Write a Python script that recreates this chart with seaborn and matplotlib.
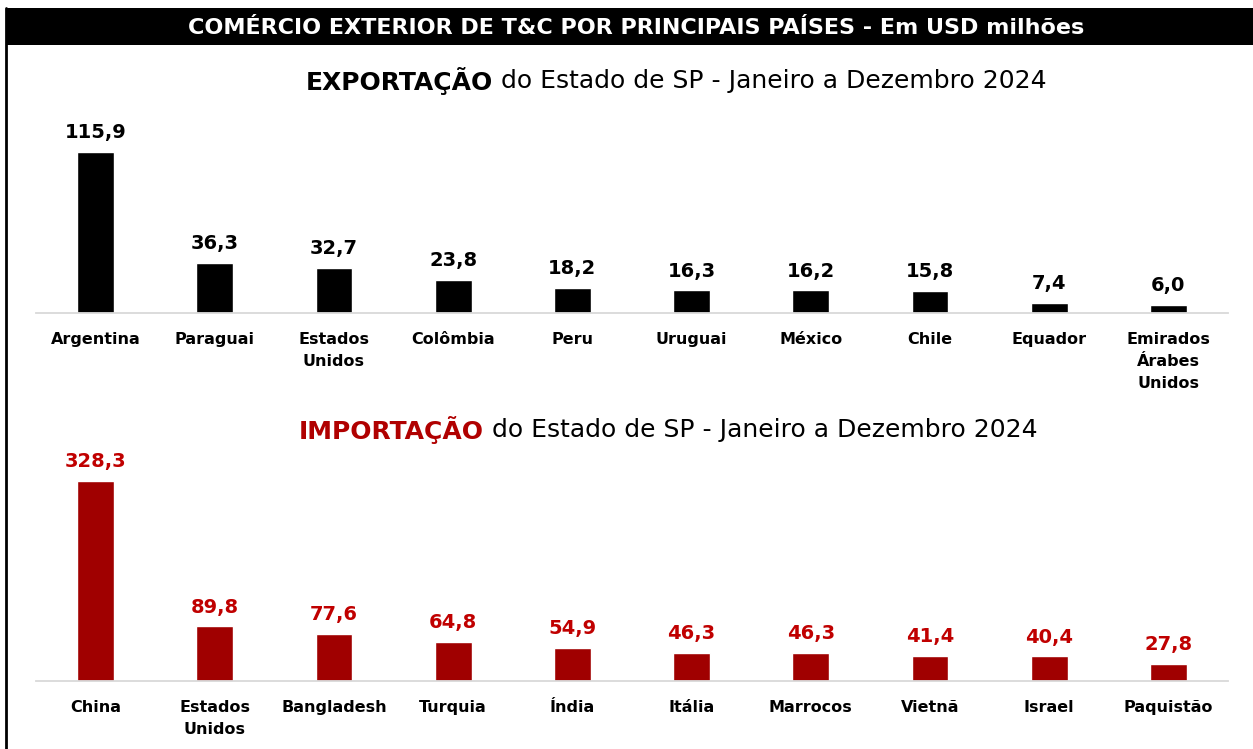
import seaborn as sns
import pandas as pd
import matplotlib.pyplot as plt
from matplotlib.patches import Rectangle
from matplotlib.lines import Line2D

sns.set_theme(style="white")
plt.rcParams['font.family'] = ['DejaVu Sans']

header = "COMÉRCIO EXTERIOR DE T&C POR PRINCIPAIS PAÍSES - Em USD milhões"
period = " do Estado de SP - Janeiro a Dezembro 2024"

exp_countries = ["Argentina", "Paraguai", "Estados\nUnidos", "Colômbia", "Peru",
                 "Uruguai", "México", "Chile", "Equador", "Emirados\nÁrabes\nUnidos"]
exp_values = [115.9, 36.3, 32.7, 23.8, 18.2, 16.3, 16.2, 15.8, 7.4, 6.0]

imp_countries = ["China", "Estados\nUnidos", "Bangladesh", "Turquia", "Índia",
                 "Itália", "Marrocos", "Vietnã", "Israel", "Paquistão"]
imp_values = [328.3, 89.8, 77.6, 64.8, 54.9, 46.3, 46.3, 41.4, 40.4, 27.8]

W, H = 1253, 749
fig = plt.figure(figsize=(W / 100, H / 100), dpi=100)
fig.patch.set_facecolor("white")

def px(x, y):
    return x / W, 1 - y / H

# header bar + left border
x0, y0 = px(6, 45)
fig.patches.append(Rectangle((x0, y0), 1 - x0, 37 / H, transform=fig.transFigure,
                             facecolor="black", edgecolor="none", zorder=0))
fig.lines.append(Line2D([6 / W, 6 / W], [0, 1 - 8 / H], transform=fig.transFigure,
                        color="black", lw=2))
fig.text(*px(636, 28), header, color="white", fontsize=16, fontweight="bold",
         ha="center", va="center")


def draw_panel(countries, values, bar_color, label_color, base_y, bar_top_y, ax_top_y):
    left, bottom = px(36, base_y)
    width = (1228 - 36) / W
    height = (base_y - ax_top_y) / H
    ax = fig.add_axes([left, bottom, width, height])
    df = pd.DataFrame({"pais": countries, "valor": values})
    sns.barplot(data=df, x="pais", y="valor", color=bar_color, width=0.31,
                saturation=1, ax=ax)
    ax.set_ylim(0, max(values) * (base_y - ax_top_y) / (base_y - bar_top_y))
    ax.set_xlim(-0.5, len(values) - 0.5)
    ax.set_xlabel("")
    ax.set_ylabel("")
    ax.set_yticks([])
    for s in ["top", "left", "right"]:
        ax.spines[s].set_visible(False)
    ax.spines["bottom"].set_color("#D9D9D9")
    ax.spines["bottom"].set_linewidth(1.3)
    ax.tick_params(axis="x", length=0, pad=13.5)
    for t in ax.get_xticklabels():
        t.set_fontweight("bold")
        t.set_fontsize(11.5)
        t.set_color("black")
        t.set_linespacing(1.6)
        t.set_verticalalignment("top")
    labels = [f"{v:.1f}".replace(".", ",") for v in values]
    ax.bar_label(ax.containers[0], labels=labels, padding=7, fontsize=14,
                 fontweight="bold", color=label_color)
    ax.set_facecolor("none")
    return ax


draw_panel(exp_countries, exp_values, "black", "black", 313, 152, 125)
draw_panel(imp_countries, imp_values, "#A00000", "#C00000", 681, 481, 455)

renderer = fig.canvas.get_renderer()


def split_title(cx, cy, bold, bold_color):
    t1 = fig.text(0, 0, bold, fontsize=18, fontweight="bold", color=bold_color,
                  va="center", ha="left")
    t2 = fig.text(0, 0, period, fontsize=18, color="black", va="center", ha="left")
    w1 = t1.get_window_extent(renderer).width
    w2 = t2.get_window_extent(renderer).width
    start = cx - (w1 + w2) / 2
    t1.set_position(px(start, cy))
    t2.set_position(px(start + w1, cy))


split_title(676, 81, "EXPORTAÇÃO", "black")
split_title(668, 430, "IMPORTAÇÃO", "#B00000")

fig.savefig("out.png", dpi=100)
